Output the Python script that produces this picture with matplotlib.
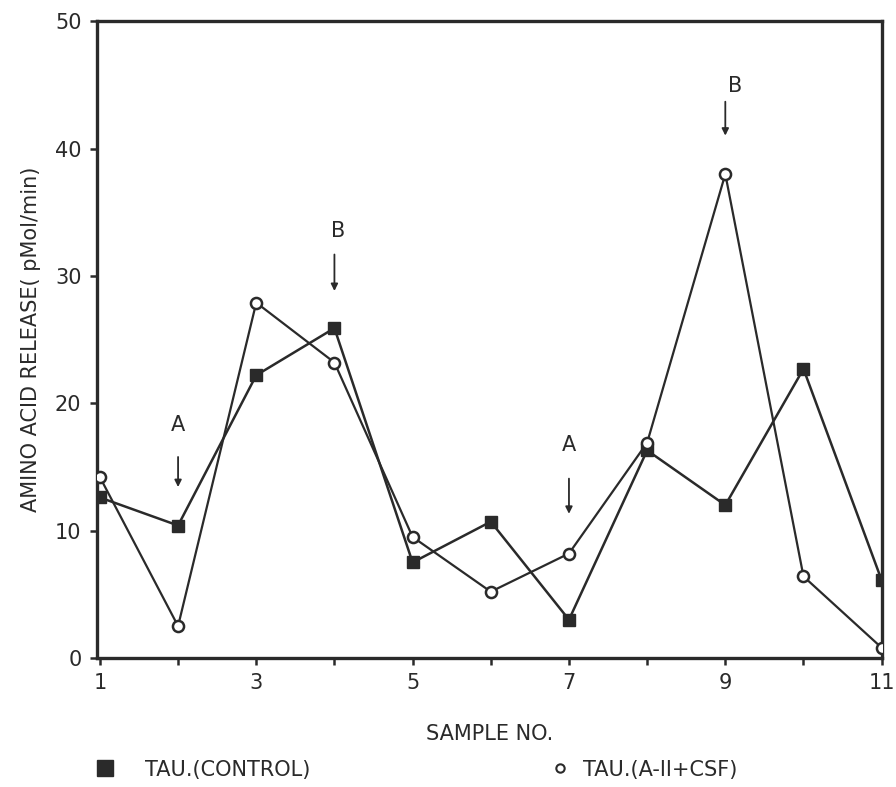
import matplotlib.pyplot as plt
from matplotlib.lines import Line2D

# Дані
samples = [1, 2, 3, 4, 5, 6, 7, 8, 9, 10, 11]
control = [12.6, 10.4, 22.2, 25.9, 7.5, 10.7, 3.0, 16.3, 12.0, 22.7, 6.1]
csf = [14.2, 2.5, 27.9, 23.2, 9.5, 5.2, 8.2, 16.9, 38.0, 6.4, 0.8]

# Стрілки-позначки: (x, текст, y підпису, y початку, y кінця)
marks = [
    (2, "A", 18.3, 16.0, 13.2),
    (4, "B", 33.5, 31.9, 28.6),
    (7, "A", 16.7, 14.3, 11.1),
    (9, "B", 44.9, 43.9, 40.8),
]
xticks = [1, 3, 5, 7, 9, 11]
yticks = [0, 10, 20, 30, 40, 50]

ink = "#2a2a2a"
plt.rcParams['font.family'] = ['DejaVu Sans']

fig = plt.figure(figsize=(8.96, 7.87), dpi=100)
ax = fig.add_axes([0.108, 0.164, 0.876, 0.809])

ax.plot(samples, control, color=ink, linewidth=1.8, marker='s', markersize=8,
        markerfacecolor=ink, markeredgecolor=ink, zorder=3)
ax.plot(samples, csf, color=ink, linewidth=1.6, marker='o', markersize=8,
        markerfacecolor='white', markeredgecolor=ink, markeredgewidth=1.8, zorder=4)

for x, lab, ylab, y0, y1 in marks:
    dx = 0.12 if lab == "B" and x == 9 else (0.05 if lab == "B" else 0)
    ax.text(x + dx, ylab, lab, ha='center', va='center', fontsize=15, color=ink)
    ax.annotate("", xy=(x, y1), xytext=(x, y0),
                arrowprops=dict(arrowstyle='-|>', color=ink, lw=1.3,
                                mutation_scale=10))

ax.set_xlim(0.96, 11.0)
ax.set_ylim(0, 50)
ax.set_xticks(range(1, 12))
ax.set_xticklabels([str(i) if i in xticks else "" for i in range(1, 12)])
ax.set_yticks(yticks)
ax.tick_params(axis='both', direction='out', length=5, width=1.8, color=ink,
               labelsize=15, labelcolor=ink, pad=6)
for s in ax.spines.values():
    s.set_linewidth(2.4)
    s.set_color(ink)

ax.set_xlabel("SAMPLE NO.", fontsize=15, color=ink, labelpad=22)
ax.set_ylabel("AMINO ACID RELEASE( pMol/min)", fontsize=15, color=ink, labelpad=10)

# Легенда внизу: два окремі блоки, як на оригіналі
h_ctrl = Line2D([], [], linestyle='none', marker='s', markersize=11,
                markerfacecolor=ink, markeredgecolor=ink)
h_csf = Line2D([], [], linestyle='none', marker='o', markersize=6,
               markerfacecolor='white', markeredgecolor=ink, markeredgewidth=1.5)
fig.legend([h_ctrl], ["TAU.(CONTROL)"], loc='center left',
           bbox_to_anchor=(0.085, 0.022), frameon=False, fontsize=15,
           handlelength=1.0, handletextpad=1.4, labelcolor=ink)
fig.legend([h_csf], ["TAU.(A-II+CSF)"], loc='center left',
           bbox_to_anchor=(0.593, 0.022), frameon=False, fontsize=15,
           handlelength=1.0, handletextpad=0.6, labelcolor=ink)

fig.savefig("out.png", dpi=100)
